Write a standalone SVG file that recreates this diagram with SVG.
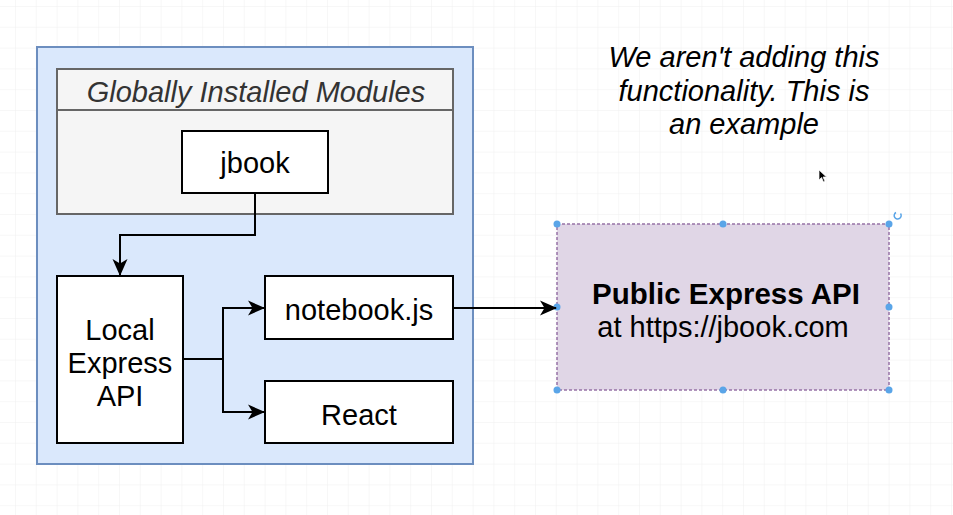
<svg xmlns="http://www.w3.org/2000/svg" width="953" height="515" viewBox="0 0 953 515">
<defs>
<pattern id="grid" width="20.8" height="20.8" patternUnits="userSpaceOnUse" x="15" y="6">
<path d="M0 0H20.8M0 0V20.8" fill="none" stroke="#f0f0f0" stroke-width="1"/>
</pattern>
<marker id="arr" markerWidth="17" markerHeight="16" refX="16" refY="8" orient="auto" markerUnits="userSpaceOnUse">
<path d="M0 0.5 L17 8 L0 15.5 L4.5 8 Z" fill="#000"/>
</marker>
</defs>
<style>
text{font-family:"Liberation Sans",Arial,sans-serif;font-size:29px;fill:#000;text-anchor:middle}
.box{fill:#fff;stroke:#000;stroke-width:2}
.conn{fill:none;stroke:#000;stroke-width:2}
.h{fill:#5aa5e8}
</style>
<rect width="953" height="515" fill="#fff"/>
<rect width="953" height="515" fill="url(#grid)"/>
<g id="outer">
<rect x="37" y="47" width="436" height="417" fill="#dae8fc" stroke="#6c8ebf" stroke-width="2"/>
</g>
<g id="globally">
<rect x="57" y="69" width="396" height="145" fill="#f5f5f5" stroke="#666" stroke-width="2"/>
<line x1="57" y1="110" x2="453" y2="110" stroke="#666" stroke-width="2"/>
<text x="256" y="102" font-style="italic" style="fill:#333">Globally Installed Modules</text>
</g>
<g id="jbook">
<rect class="box" x="182" y="131" width="146" height="62"/>
<text x="255" y="173">jbook</text>
</g>
<g id="local">
<rect class="box" x="57" y="276" width="126" height="167"/>
<text x="120" y="340">Local</text>
<text x="120" y="373">Express</text>
<text x="120" y="406">API</text>
</g>
<g id="notebook">
<rect class="box" x="265" y="276" width="188" height="63"/>
<text x="359" y="320">notebook.js</text>
</g>
<g id="react">
<rect class="box" x="265" y="381" width="188" height="62"/>
<text x="359" y="425">React</text>
</g>
<g id="public">
<rect x="557" y="224" width="332" height="166" fill="#e0d6e6" stroke="#9673a6" stroke-width="1.5" stroke-dasharray="3 2"/>
<text x="726" y="304" font-weight="bold" style="font-size:29.5px">Public Express API</text>
<text x="723" y="337">at https://jbook.com</text>
<g class="h">
<circle cx="557" cy="224" r="3.5"/><circle cx="723" cy="224" r="3.5"/><circle cx="889" cy="224" r="3.5"/>
<circle cx="557" cy="307" r="3.5"/><circle cx="889" cy="307" r="3.5"/>
<circle cx="557" cy="390" r="3.5"/><circle cx="723" cy="390" r="3.5"/><circle cx="889" cy="390" r="3.5"/>
</g>
<path d="M900.5 213.5 A3.5 3.5 0 1 1 896 212.5" fill="none" stroke="#5aa5e8" stroke-width="1.5"/>
</g>
<g id="note">
<text x="744" y="67" font-style="italic">We aren't adding this</text>
<text x="744" y="101" font-style="italic">functionality. This is</text>
<text x="744" y="134" font-style="italic">an example</text>
</g>
<g id="connectors">
<path class="conn" d="M255 193 V235 H120 V275" marker-end="url(#arr)"/>
<path class="conn" d="M183 359 H223 V308 H264" marker-end="url(#arr)"/>
<path class="conn" d="M223 359 V412 H264" marker-end="url(#arr)"/>
<path class="conn" d="M453 308 H556" marker-end="url(#arr)"/>
</g>
<path d="M819 170 L819 180 L821.5 177.5 L823.5 182 L825 181.3 L823 177 L826.5 177 Z" fill="#000" stroke="#fff" stroke-width="0.7"/>
</svg>
